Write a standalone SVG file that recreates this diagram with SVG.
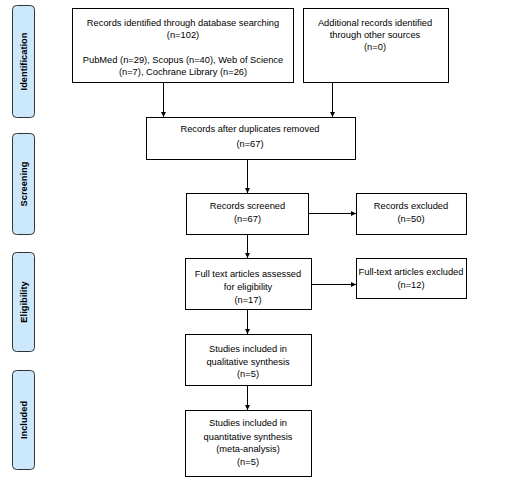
<svg xmlns="http://www.w3.org/2000/svg" width="507" height="487" viewBox="0 0 507 487">
<style>
.box{fill:#fff;stroke:#000;stroke-width:1}
.side{fill:#cce8fc;stroke:#333;stroke-width:1}
.t{font-family:"Liberation Sans",Arial,sans-serif;font-size:9.3px;fill:#000;text-anchor:middle}
.s{font-family:"Liberation Sans",Arial,sans-serif;font-size:9.3px;font-weight:bold;fill:#000;text-anchor:middle}
.c{fill:none;stroke:#000;stroke-width:1}
</style>
<defs>
<marker id="ah" viewBox="0 0 10 10" refX="10" refY="5" markerWidth="5" markerHeight="5" orient="auto" markerUnits="userSpaceOnUse">
<path d="M0,0 L10,5 L0,10 z" fill="#000"/>
</marker>
</defs>
<rect width="507" height="487" fill="#fff"/>
<g id="side-identification"><rect class="side" x="12.5" y="5.5" width="22" height="112" rx="4"/><text class="s" transform="translate(26.5,61.5) rotate(-90)">Identification</text></g>
<g id="side-screening"><rect class="side" x="12.5" y="133.5" width="22" height="101" rx="4"/><text class="s" transform="translate(26.5,184) rotate(-90)">Screening</text></g>
<g id="side-eligibility"><rect class="side" x="12.5" y="252.5" width="22" height="99" rx="4"/><text class="s" transform="translate(26.5,302) rotate(-90)">Eligibility</text></g>
<g id="side-included"><rect class="side" x="12.5" y="370.5" width="22" height="99" rx="4"/><text class="s" transform="translate(26.5,420) rotate(-90)">Included</text></g>

<g id="connectors">
<path class="c" d="M163.5,82 V117" marker-end="url(#ah)"/>
<path class="c" d="M332.5,83 V117" marker-end="url(#ah)"/>
<path class="c" d="M247.5,159 V193" marker-end="url(#ah)"/>
<path class="c" d="M308,213.5 H356" marker-end="url(#ah)"/>
<path class="c" d="M247.5,234 V258" marker-end="url(#ah)"/>
<path class="c" d="M311,284.5 H356" marker-end="url(#ah)"/>
<path class="c" d="M247.5,309 V334" marker-end="url(#ah)"/>
<path class="c" d="M247.5,385 V410" marker-end="url(#ah)"/>
</g>

<g id="n-db"><rect class="box" x="72.5" y="8.5" width="221" height="74"/>
<text class="t" x="183" y="26">Records identified through database searching</text>
<text class="t" x="183" y="38">(n=102)</text>
<text class="t" x="183" y="63">PubMed (n=29), Scopus (n=40), Web of Science</text>
<text class="t" x="183" y="75">(n=7), Cochrane Library (n=26)</text></g>

<g id="n-other"><rect class="box" x="303.5" y="8.5" width="145" height="74"/>
<text class="t" x="375" y="26">Additional records identified</text>
<text class="t" x="375" y="38">through other sources</text>
<text class="t" x="375" y="50">(n=0)</text></g>

<g id="n-dup"><rect class="box" x="146.5" y="117.5" width="209" height="42"/>
<text class="t" x="250" y="132">Records after duplicates removed</text>
<text class="t" x="250" y="147">(n=67)</text></g>

<g id="n-screened"><rect class="box" x="186.5" y="193.5" width="122" height="41"/>
<text class="t" x="247.5" y="209">Records screened</text>
<text class="t" x="247.5" y="222">(n=67)</text></g>

<g id="n-excl"><rect class="box" x="356.5" y="193.5" width="110" height="41"/>
<text class="t" x="411" y="209">Records excluded</text>
<text class="t" x="411" y="222">(n=50)</text></g>

<g id="n-full"><rect class="box" x="185.5" y="258.5" width="126" height="51"/>
<text class="t" x="248" y="277">Full text articles assessed</text>
<text class="t" x="248" y="290">for eligibility</text>
<text class="t" x="248" y="303">(n=17)</text></g>

<g id="n-fullexcl"><rect class="box" x="356.5" y="258.5" width="110" height="40"/>
<text class="t" x="411" y="275">Full-text articles excluded</text>
<text class="t" x="411" y="288">(n=12)</text></g>

<g id="n-qual"><rect class="box" x="185.5" y="334.5" width="126" height="51"/>
<text class="t" x="248" y="352">Studies included in</text>
<text class="t" x="248" y="365">qualitative synthesis</text>
<text class="t" x="248" y="377">(n=5)</text></g>

<g id="n-quant"><rect class="box" x="185.5" y="410.5" width="126" height="66"/>
<text class="t" x="248" y="426">Studies included in</text>
<text class="t" x="248" y="440">quantitative synthesis</text>
<text class="t" x="248" y="452">(meta-analysis)</text>
<text class="t" x="248" y="465">(n=5)</text></g>
</svg>
